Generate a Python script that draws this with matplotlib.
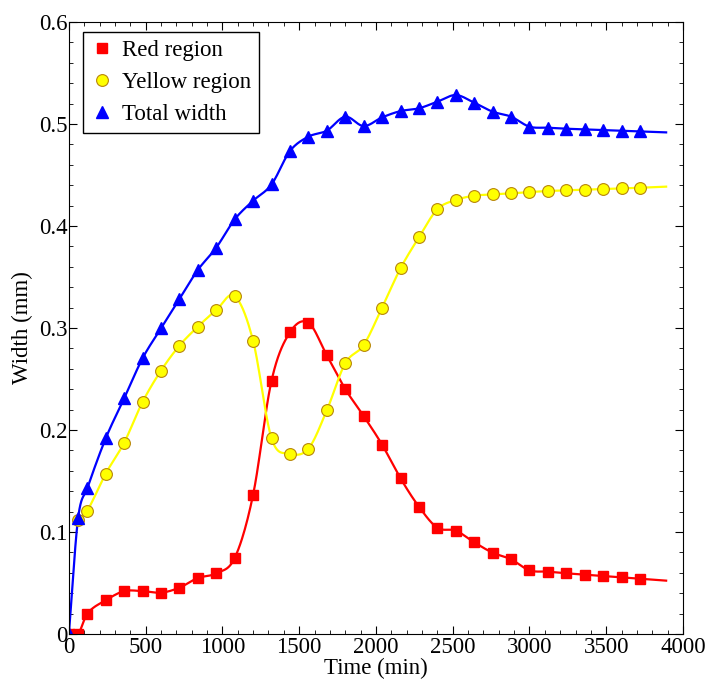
import numpy as np
import matplotlib.pyplot as plt
from matplotlib.ticker import MultipleLocator

plt.rcParams['font.family'] = ['Liberation Serif', 'DejaVu Serif']
plt.rcParams['mathtext.fontset'] = 'stix'

# sample times (min); the last entry is where the drawn curve stops (no marker)
t = [0, 60] + list(range(120, 3721, 120)) + [3890]

red = [0.0, 0.0, 0.020, 0.033, 0.042, 0.042, 0.0405, 0.0454, 0.0549, 0.0595,
       0.0745, 0.1366, 0.2484, 0.2958, 0.3052, 0.2732, 0.2402, 0.2137, 0.1856,
       0.1526, 0.1248, 0.1042, 0.1013, 0.0899, 0.0797, 0.0732, 0.0624, 0.0611,
       0.0595, 0.0582, 0.0569, 0.0556, 0.0542, 0.0523]
yellow = [0.1118, 0.1209, 0.1572, 0.1876, 0.2275, 0.2582, 0.2827, 0.3013,
          0.3176, 0.3314, 0.2873, 0.1918, 0.1768, 0.1817, 0.2193, 0.2654, 0.2833,
          0.3200, 0.3585, 0.3889, 0.4164, 0.4255, 0.4297, 0.4310, 0.4320, 0.4333,
          0.4343, 0.4350, 0.4356, 0.4363, 0.4369, 0.4375, 0.4386]
total = [0.0, 0.1134, 0.1428, 0.1918, 0.2310, 0.2703, 0.2997, 0.3284, 0.3569,
         0.3788, 0.4065, 0.4248, 0.4408, 0.4735, 0.4876, 0.4935, 0.5072, 0.4980,
         0.5065, 0.5127, 0.5154, 0.5219, 0.5284, 0.5209, 0.5121, 0.5072, 0.4974,
         0.4964, 0.4954, 0.4948, 0.4941, 0.4935, 0.4928, 0.4918]


def smooth(x, y, n=20):
    # cubic hermite (catmull-rom style) curve through the data points
    x = np.asarray(x, float)
    y = np.asarray(y, float)
    m = np.empty_like(y)
    m[1:-1] = (y[2:] - y[:-2]) / (x[2:] - x[:-2])
    m[0] = (y[1] - y[0]) / (x[1] - x[0])
    m[-1] = (y[-1] - y[-2]) / (x[-1] - x[-2])
    xs, ys = [], []
    for i in range(len(x) - 1):
        h = x[i + 1] - x[i]
        s = np.linspace(0, 1, n, endpoint=False)
        h00 = 2 * s**3 - 3 * s**2 + 1
        h10 = s**3 - 2 * s**2 + s
        h01 = -2 * s**3 + 3 * s**2
        h11 = s**3 - s**2
        xs.append(x[i] + s * h)
        ys.append(h00 * y[i] + h10 * h * m[i] + h01 * y[i + 1] + h11 * h * m[i + 1])
    xs.append([x[-1]])
    ys.append([y[-1]])
    return np.concatenate(xs), np.concatenate(ys)


fs = 16.5
fig = plt.figure(figsize=(7.1, 6.82), dpi=100)
ax = fig.add_axes([0.097, 0.0704, 0.865, 0.8973])

t_y = t[1:]
for tt, vals, col in [(t, red, 'red'), (t_y, yellow, '#ffff00'), (t, total, 'blue')]:
    xs, ys = smooth(tt, vals)
    ax.plot(xs, ys, color=col, lw=1.6)

ax.plot(t[:-1], red[:-1], 's', color='red', ms=7, mec='red', label='Red region')
ax.plot(t_y[:-1], yellow[:-1], 'o', color='#ffff00', ms=8.5, mec='#b8860b',
        mew=0.8, label='Yellow region')
ax.plot(t[:-1], total[:-1], '^', color='blue', ms=9, mec='blue', label='Total width')

ax.set_xlim(0, 4000)
ax.set_ylim(0, 0.6)
ax.xaxis.set_major_locator(MultipleLocator(500))
ax.xaxis.set_minor_locator(MultipleLocator(100))
ax.yaxis.set_minor_locator(MultipleLocator(0.02))
ax.set_yticks(np.arange(0, 0.61, 0.1))
ax.set_yticklabels(['0', '0.1', '0.2', '0.3', '0.4', '0.5', '0.6'])
ax.tick_params(which='both', direction='in', top=True, right=True, labelsize=fs)
ax.tick_params(which='major', length=6, pad=2)
ax.tick_params(which='minor', length=3)
ax.tick_params(axis='y', pad=1)

ax.set_xlabel('Time (min)', fontsize=fs, labelpad=0)
ax.set_ylabel('Width (mm)', fontsize=fs, labelpad=4)

leg = ax.legend(loc='upper left', bbox_to_anchor=(0.0228, 0.9837), fontsize=fs,
                frameon=True, fancybox=False, edgecolor='black', framealpha=1,
                handlelength=1.0, borderaxespad=0, labelspacing=0.48,
                handletextpad=0.35, borderpad=0.35)
leg.get_frame().set_linewidth(1.0)

fig.savefig('out.png', dpi=100)
